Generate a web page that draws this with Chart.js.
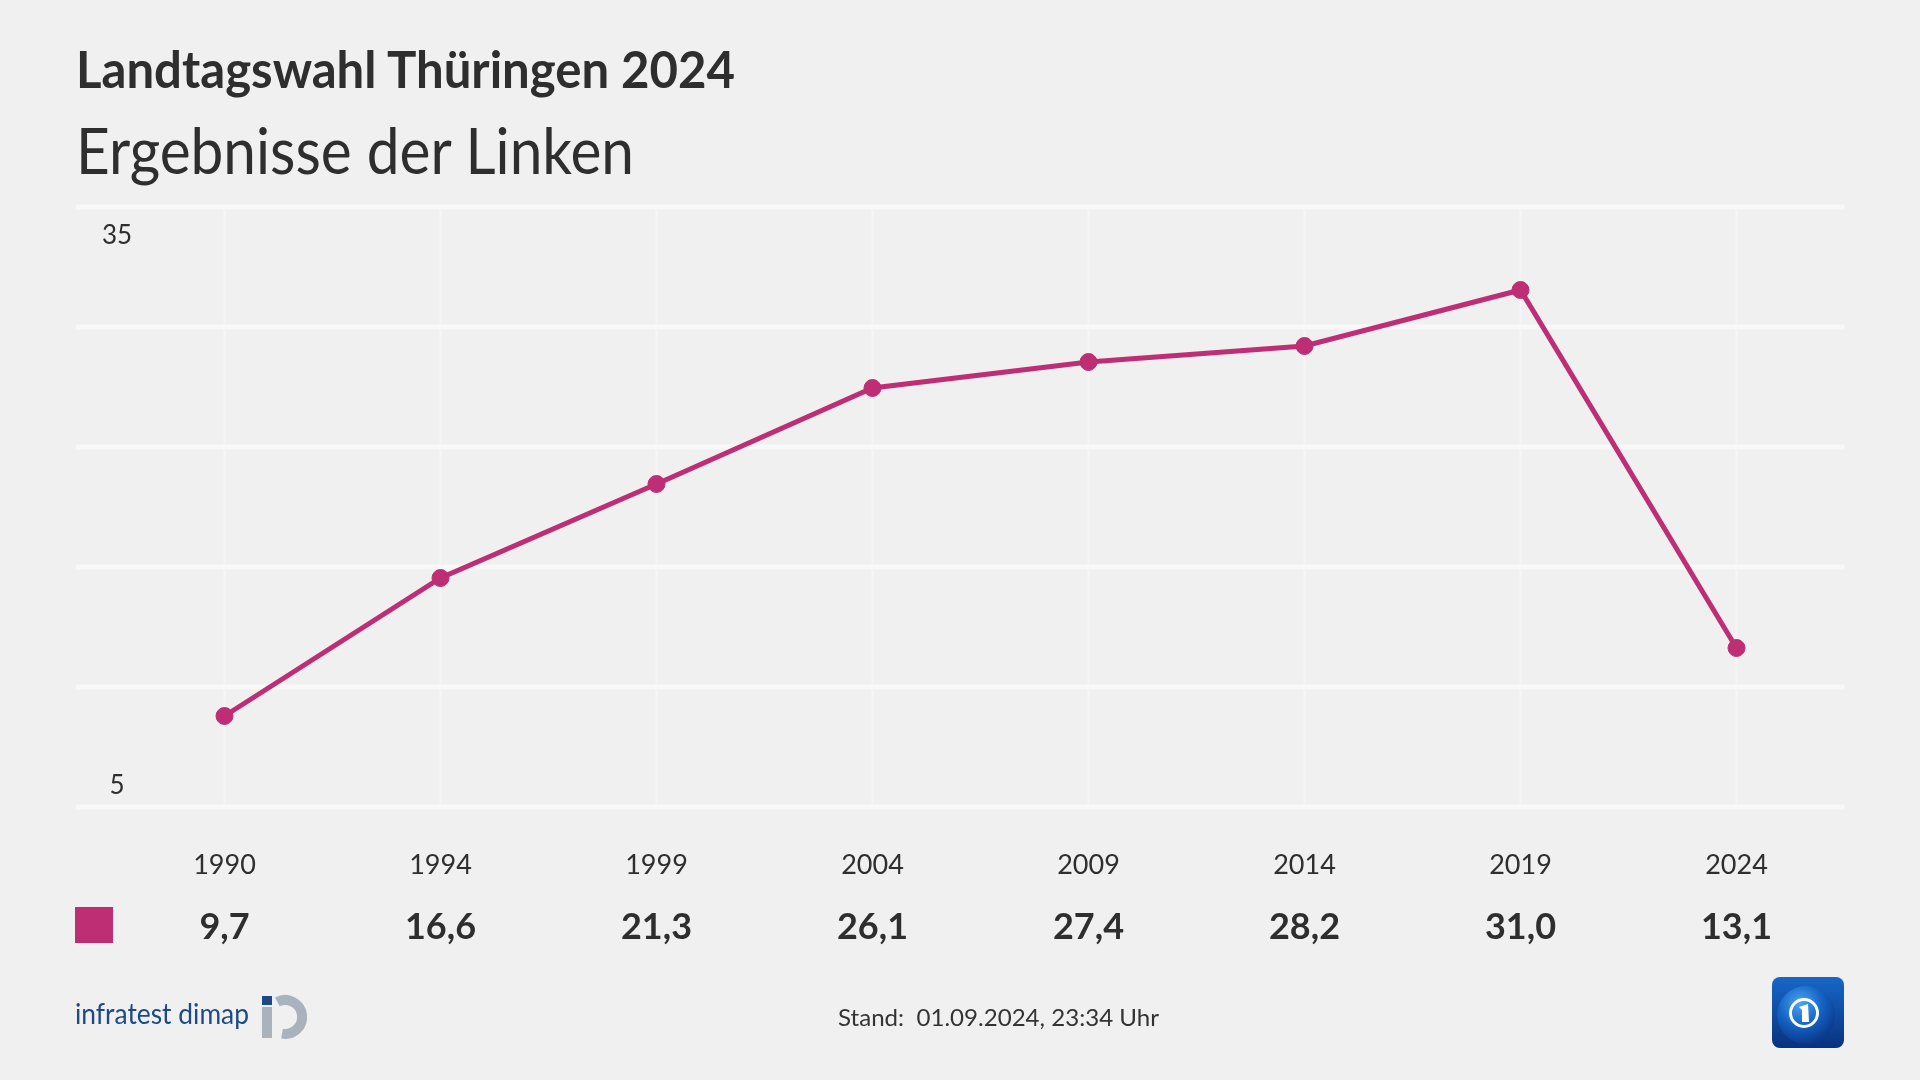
<!DOCTYPE html>
<html><head><meta charset="utf-8">
<script src="https://cdn.jsdelivr.net/npm/chart.js@4.4.1/dist/chart.umd.min.js"></script>
<style>
html,body{margin:0;padding:0;background:#f0f0f0;width:1920px;height:1080px;overflow:hidden;font-family:Lato,"Noto Sans",sans-serif;color:#2e2e2e}
#c{position:absolute;left:0;top:0}
.t{position:absolute;white-space:nowrap;line-height:1;transform-origin:0 0;margin:0}
#title{font-size:51px;font-weight:700}
#subtitle{font-size:64px;font-weight:400}
#infra{font-size:28px;color:#1d4a86}
#stand{font-size:24px;color:#333}
#infralogo{position:absolute;left:258px;top:992px}
#ard{position:absolute;left:1772px;top:977px}
</style></head>
<body>
<canvas id="c" width="1920" height="1080"></canvas>
<div class="t" id="title" data-left="76" data-base="88" data-w="659">Landtagswahl Thüringen 2024</div>
<div class="t" id="subtitle" data-left="76" data-base="174" data-w="558">Ergebnisse der Linken</div>
<div class="t" id="infra" data-left="75" data-base="1024" data-w="174">infratest dimap</div>
<div class="t" id="stand" data-left="838" data-base="1026" data-w="321">Stand:&nbsp; 01.09.2024, 23:34 Uhr</div>
<svg id="infralogo" width="52" height="52" viewBox="0 0 52 52">
  <rect x="4" y="4" width="10" height="9" fill="#1d4a86"/>
  <rect x="4" y="15" width="10" height="31" fill="#a9b3bd"/>
  <path d="M 19.3 9.9 A 17 17 0 1 1 24.05 41.7" fill="none" stroke="#a9b3bd" stroke-width="10"/>
</svg>
<svg id="ard" width="72" height="71" viewBox="0 0 72 71">
  <defs>
    <linearGradient id="bg" x1="0" y1="0" x2="0" y2="1"><stop offset="0" stop-color="#1767c8"/><stop offset="1" stop-color="#08327e"/></linearGradient>
    <radialGradient id="gl" cx="40%" cy="30%" r="70%"><stop offset="0" stop-color="#4aa6f2"/><stop offset="0.55" stop-color="#1462c4"/><stop offset="1" stop-color="#0b3a8a"/></radialGradient>
  </defs>
  <rect x="0" y="0" width="72" height="71" rx="8" fill="url(#bg)"/>
  <circle cx="34" cy="38" r="29" fill="url(#gl)"/>
  <circle cx="32" cy="36" r="13.5" fill="none" stroke="#fff" stroke-width="3"/>
  <path d="M27 30 L36 27 L37 45 L30 45 L30 33 Z" fill="#fff"/>
</svg>
<script>
// ---- data ----
const YEARS = ['1990', '1994', '1999', '2004', '2009', '2014', '2019', '2024'];
const VALUES = [9.7, 16.6, 21.3, 26.1, 27.4, 28.2, 31.0, 13.1];
const Y_MIN = 5;
const Y_MAX = 35;
const GRID_TICKS = [5, 11, 17, 23, 29, 35];
const Y_LABELS = [35, 5];
const SERIES_COLOR = '#bd2e74';
const GRID_SHIFT = -3;

// ---- text placement ----
document.querySelectorAll('.t').forEach(el => {
  const m = document.createElement('span');
  m.style.cssText = 'display:inline-block;width:0;height:0;vertical-align:baseline';
  el.appendChild(m);
  const base = m.offsetTop;
  const w = el.getBoundingClientRect().width;
  const target = +el.dataset.w;
  el.style.left = el.dataset.left + 'px';
  el.style.top = (+el.dataset.base - base) + 'px';
  el.style.transform = 'scaleX(' + (target / w) + ')';
});

const fmt = v => v.toFixed(1).replace('.', ',');

const decor = {
  id: 'decor',
  beforeDatasetsDraw(chart) {
    const {ctx, chartArea} = chart;
    const x = chart.scales.x, y = chart.scales.y;
    ctx.save();
    ctx.strokeStyle = '#f6f6f6';
    ctx.lineWidth = 2;
    YEARS.forEach((_, i) => {
      const px = x.getPixelForValue(i);
      ctx.beginPath();
      ctx.moveTo(px, y.getPixelForValue(Y_MAX) + GRID_SHIFT);
      ctx.lineTo(px, y.getPixelForValue(Y_MIN) + GRID_SHIFT);
      ctx.stroke();
    });
    ctx.strokeStyle = '#f8f8f8';
    ctx.lineWidth = 5;
    GRID_TICKS.forEach(v => {
      const py = y.getPixelForValue(v) + GRID_SHIFT;
      ctx.beginPath();
      ctx.moveTo(76, py);
      ctx.lineTo(chartArea.right, py);
      ctx.stroke();
    });
    ctx.restore();
  },
  afterDraw(chart) {
    const {ctx} = chart;
    const x = chart.scales.x, y = chart.scales.y;
    ctx.save();
    ctx.fillStyle = '#2e2e2e';
    ctx.textAlign = 'center';
    ctx.textBaseline = 'alphabetic';
    ctx.font = '26px Lato, "Noto Sans", sans-serif';
    Y_LABELS.forEach(v => {
      const py = y.getPixelForValue(v) + GRID_SHIFT;
      const off = v === Y_MAX ? 37 : -13;
      ctx.fillText(String(v), 117, py + off);
    });
    ctx.font = '27px Lato, "Noto Sans", sans-serif';
    YEARS.forEach((lab, i) => ctx.fillText(lab, x.getPixelForValue(i), 874));
    ctx.font = 'bold 36px Lato, "Noto Sans", sans-serif';
    VALUES.forEach((v, i) => ctx.fillText(fmt(v), x.getPixelForValue(i), 939));
    ctx.fillStyle = SERIES_COLOR;
    ctx.fillRect(75, 907, 38, 36);
    ctx.restore();
  }
};

new Chart(document.getElementById('c'), {
  type: 'line',
  data: {
    labels: YEARS,
    datasets: [{
      data: VALUES,
      borderColor: SERIES_COLOR,
      backgroundColor: SERIES_COLOR,
      pointBackgroundColor: SERIES_COLOR,
      pointBorderColor: SERIES_COLOR,
      borderWidth: 5,
      pointRadius: 8.5,
      pointBorderWidth: 1,
      tension: 0,
      clip: false
    }]
  },
  options: {
    responsive: false,
    animation: false,
    devicePixelRatio: 1,
    layout: {padding: {left: 116.5, right: 75.5, top: 210, bottom: 270}},
    plugins: {legend: {display: false}, tooltip: {enabled: false}},
    scales: {
      x: {type: 'category', display: false, offset: true},
      y: {display: false, min: Y_MIN, max: Y_MAX}
    }
  },
  plugins: [decor]
});
</script>
</body></html>
